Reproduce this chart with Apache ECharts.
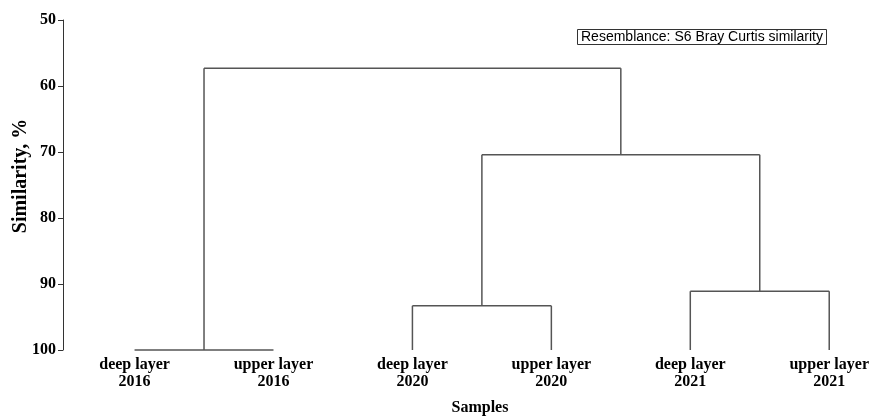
<!DOCTYPE html>
<html>
<head>
<meta charset="utf-8">
<script src="https://cdn.jsdelivr.net/npm/echarts@6/dist/echarts.min.js"></script>
<style>html,body{margin:0;padding:0;background:#fff}#c{width:872px;height:416px}</style>
</head>
<body>
<div id="c"></div>
<script>
// Leaves (samples) in display order
const leafNames = ['deep layer', 'upper layer', 'deep layer', 'upper layer', 'deep layer', 'upper layer'];
const leafYears = ['2016', '2016', '2020', '2020', '2021', '2021'];
// Merges: [left node, right node, similarity %]; new nodes numbered 6,7,8,...
const mergeLeft = [0, 2, 4, 7, 6];
const mergeRight = [1, 3, 5, 8, 9];
const mergeSim = [100, 93.3, 91.1, 70.4, 57.3];
const yTicks = [50, 60, 70, 80, 90, 100];
const legendText = 'Resemblance: S6 Bray Curtis similarity';

// Build segments from merges
const nodeX = leafNames.map((_, i) => i);
const nodeY = leafNames.map(() => 100);
const segs = [];
for (let k = 0; k < mergeSim.length; k++) {
  const a = mergeLeft[k], b = mergeRight[k], h = mergeSim[k];
  segs.push([nodeX[a], nodeY[a], nodeX[a], h]);
  segs.push([nodeX[b], nodeY[b], nodeX[b], h]);
  segs.push([nodeX[a], h, nodeX[b], h]);
  nodeX.push((nodeX[a] + nodeX[b]) / 2);
  nodeY.push(h);
}

const serif = '"Liberation Serif", "DejaVu Serif", serif';
const chart = echarts.init(document.getElementById('c'));
chart.setOption({
  animation: false,
  backgroundColor: '#fff',
  title: {
    text: legendText,
    left: 577, top: 29,
    padding: [1, 4, 1, 4],
    borderColor: '#333', borderWidth: 1,
    textStyle: { fontFamily: '"Liberation Sans", Arial, sans-serif', fontSize: 14, fontWeight: 'normal', color: '#000' }
  },
  grid: { left: 63, right: 0, top: 20, bottom: 66 },
  xAxis: {
    type: 'value', min: -0.515, max: 5.272,
    splitLine: { show: false }, axisLine: { show: false }, axisTick: { show: false },
    axisLabel: {
      customValues: leafNames.map((_, i) => i),
      formatter: v => leafNames[v] + '\n' + leafYears[v],
      fontFamily: serif, fontWeight: 'bold', fontSize: 16, color: '#000',
      lineHeight: 17, margin: 6
    }
  },
  yAxis: {
    type: 'value', inverse: true, min: 50, max: 100, interval: 10,
    splitLine: { show: false },
    axisLine: { show: true, onZero: false, lineStyle: { color: '#333', width: 1 } },
    axisTick: { show: true, length: 5, lineStyle: { color: '#333' } },
    axisLabel: { fontFamily: serif, fontWeight: 'bold', fontSize: 16, color: '#000', margin: 7 }
  },
  graphic: [{
    type: 'text', x: 21, y: 176, rotation: Math.PI / 2,
    style: { text: 'Similarity, %', font: 'bold 20px ' + serif, fill: '#000', align: 'center', verticalAlign: 'middle' }
  }, {
    type: 'text', x: 480, y: 408,
    style: { text: 'Samples', font: 'bold 16px ' + serif, fill: '#000', align: 'center', verticalAlign: 'middle' }
  }],
  series: [{
    type: 'custom',
    coordinateSystem: 'cartesian2d',
    data: segs,
    encode: { x: [0, 2], y: [1, 3] },
    renderItem: (params, api) => {
      const p1 = api.coord([api.value(0), api.value(1)]);
      const p2 = api.coord([api.value(2), api.value(3)]);
      return {
        type: 'line',
        shape: { x1: p1[0], y1: p1[1], x2: p2[0], y2: p2[1] },
        style: { stroke: '#555', lineWidth: 1.5 }
      };
    },
    clip: false
  }]
});
</script>
</body>
</html>
